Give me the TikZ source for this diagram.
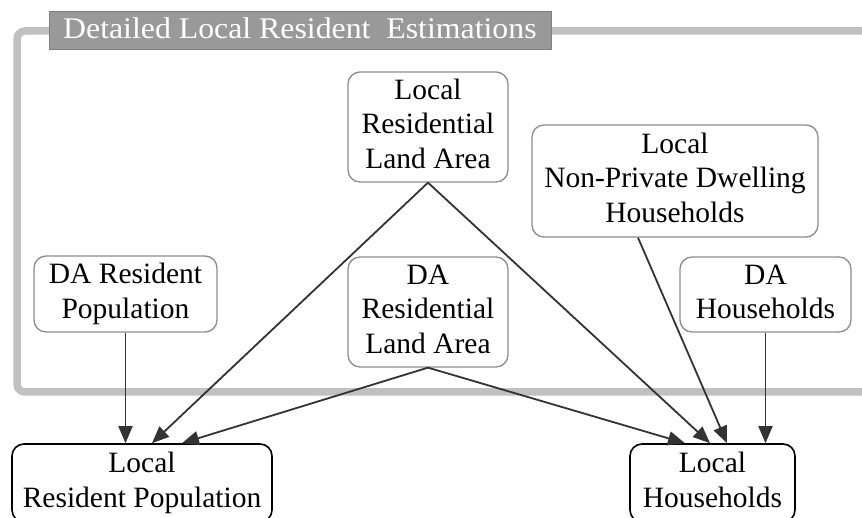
\documentclass[tikz,border=0pt]{standalone}
\usepackage{fontspec}
\setmainfont{Liberation Serif}
\usetikzlibrary{arrows.meta,calc}

\definecolor{framegray}{HTML}{C0C0C0}
\definecolor{titlefill}{HTML}{999999}
\definecolor{titleedge}{HTML}{808080}
\definecolor{boxedge}{HTML}{8C8C8C}
\definecolor{edgeink}{HTML}{333333}

% one line of box text, with uniform height and depth
\newcommand{\boxline}[1]{\strut#1}

\begin{document}
\begin{tikzpicture}[x=1pt,y=-1pt,
  srcbox/.style={draw=boxedge, line width=1.3pt, rounded corners=12pt, fill=white,
                 align=center, inner sep=0pt, font=\fontsize{29.5}{34.5}\selectfont},
  outbox/.style={srcbox, draw=black, line width=1.6pt},
  link/.style={draw=edgeink, line width=1.8pt, -{Triangle[length=17pt,width=14pt]}}]
\useasboundingbox (0,0) rectangle (862,518);

% cluster frame
\draw[framegray, line width=7.5pt, rounded corners=8pt]
  (862,31) -- (17,31) -- (17,392) -- (862,392);

% cluster title
\node[draw=titleedge, fill=titlefill, line width=1pt, minimum width=502pt,
      minimum height=38pt, inner sep=0pt] (title) at (300,31) {};
\node[text=white, anchor=base west, inner sep=0pt, font=\fontsize{30}{36}\selectfont]
  (titletext) at (63,39) {\scalebox{1.06}[1]{Detailed Local Resident\ \ Estimations}};

% inputs inside the cluster
\node[srcbox, minimum width=160pt, minimum height=110pt] (lrla) at (428,127)
  {\boxline{Local}\\\boxline{Residential}\\\boxline{Land Area}};
\node[srcbox, minimum width=286pt, minimum height=112pt] (npd) at (675,181)
  {\boxline{Local}\\\boxline{Non-Private Dwelling}\\\boxline{Households}};
\node[srcbox, minimum width=183pt, minimum height=76pt] (drp) at (125.5,294)
  {\boxline{DA Resident}\\\boxline{Population}};
\node[srcbox, minimum width=160pt, minimum height=110pt] (drla) at (428,312)
  {\boxline{DA}\\\boxline{Residential}\\\boxline{Land Area}};
\node[srcbox, minimum width=171pt, minimum height=75pt] (dah) at (765.5,294.5)
  {\boxline{DA}\\\boxline{Households}};

% outputs
\node[outbox, minimum width=260pt, minimum height=78pt] (lrp) at (142,483)
  {\boxline{Local}\\\boxline{Resident Population}};
\node[outbox, minimum width=165pt, minimum height=78pt] (lh) at (712.5,483)
  {\boxline{Local}\\\boxline{Households}};

% connectors
\draw[link] (drp.south) -- (drp.south |- lrp.north);
\draw[link] (lrla.south) -- ([xshift=10pt]lrp.north);
\draw[link] (drla.south) -- ([xshift=40pt]lrp.north);
\draw[link] (lrla.south) -- ([xshift=-2.5pt]lh.north);
\draw[link] (drla.south) -- ([xshift=-27.5pt]lh.north);
\draw[link] ([xshift=-37pt]npd.south) -- ([xshift=14.5pt]lh.north);
\draw[link] (dah.south) -- (dah.south |- lh.north);
\end{tikzpicture}
\end{document}
